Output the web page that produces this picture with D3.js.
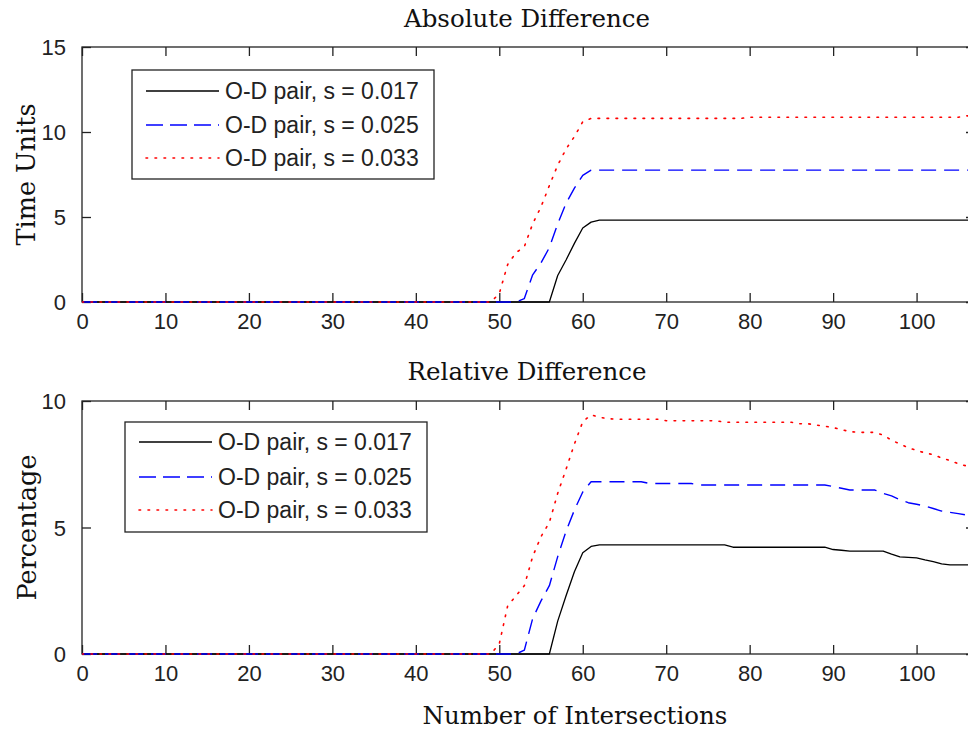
<!DOCTYPE html>
<html>
<head>
<meta charset="utf-8">
<script src="https://cdn.jsdelivr.net/npm/d3@7"></script>
<style>
  html, body { margin: 0; padding: 0; background: #fff; }
  svg { display: block; }
  .tick-label { font-family: "Liberation Sans", Arial, sans-serif; font-size: 22px; fill: #222; }
  .legend-text { font-family: "Liberation Sans", Arial, sans-serif; font-size: 23px; fill: #222; }
  .serif { font-family: "DejaVu Serif", serif; font-size: 24.5px; fill: #111; }
</style>
</head>
<body>
<script>
// ---------------- DATA ----------------
const xValues = [0,1,2,3,4,5,6,7,8,9,10,11,12,13,14,15,16,17,18,19,20,21,22,23,24,25,26,27,28,29,30,31,32,33,34,35,36,37,38,39,40,41,42,43,44,45,46,47,48,49,50,51,52,53,54,55,56,57,58,59,60,61,62,63,64,65,66,67,68,69,70,71,72,73,74,75,76,77,78,79,80,81,82,83,84,85,86,87,88,89,90,91,92,93,94,95,96,97,98,99,100,101,102,103,104,105,106,107];

const seriesNames = ["O-D pair, s = 0.017", "O-D pair, s = 0.025", "O-D pair, s = 0.033"];

// Absolute difference (time units)
const abs017 = [0,0,0,0,0,0,0,0,0,0, 0,0,0,0,0,0,0,0,0,0, 0,0,0,0,0,0,0,0,0,0, 0,0,0,0,0,0,0,0,0,0, 0,0,0,0,0,0,0,0,0,0, 0,0,0,0,0,0,0,
  1.56,2.47,3.45,4.35,4.7,
  4.82,4.82,4.82,4.82,4.82,4.82,4.82,4.82,4.82,4.82, 4.82,4.82,4.82,4.82,4.82,4.82,4.82,4.82,4.82,4.82,
  4.82,4.82,4.82,4.82,4.82,4.82,4.82,4.82,4.82,4.82, 4.82,4.82,4.82,4.82,4.82,4.82,4.82,4.82,4.82,4.82,
  4.82,4.82,4.82,4.82,4.82,4.82];
const abs025 = [0,0,0,0,0,0,0,0,0,0, 0,0,0,0,0,0,0,0,0,0, 0,0,0,0,0,0,0,0,0,0, 0,0,0,0,0,0,0,0,0,0, 0,0,0,0,0,0,0,0,0,0, 0,0,0,
  0.2,1.6,2.3,3.2,4.6,5.8,6.7,7.45,
  7.76,7.76,7.76,7.76,7.76,7.76,7.76,7.76,7.76,7.76, 7.76,7.76,7.76,7.76,7.76,7.76,7.76,7.76,7.76,7.76,
  7.76,7.76,7.76,7.76,7.76,7.76,7.76,7.76,7.76,7.76, 7.76,7.76,7.76,7.76,7.76,7.76,7.76,7.76,7.76,7.76,
  7.76,7.76,7.76,7.76,7.76,7.76,7.76];
const abs033 = [0,0,0,0,0,0,0,0,0,0, 0,0,0,0,0,0,0,0,0,0, 0,0,0,0,0,0,0,0,0,0, 0,0,0,0,0,0,0,0,0,0, 0,0,0,0,0,0,0,0,0,0,
  0.5,2.2,2.9,3.25,4.6,5.6,6.85,8.05,9.0,9.73,10.6,
  10.8,10.8,10.8,10.8,10.8,10.8,10.8,10.8,10.8,10.8, 10.8,10.8,10.8,10.8,10.8,10.8,10.8,10.8,10.8,
  10.87,10.87,10.87,10.87,10.87,10.87,10.87,10.87,10.87,10.87, 10.87,10.87,10.87,10.87,10.87,10.87,10.87,10.87,10.87,10.87,
  10.87,10.87,10.87,10.87,10.87,10.87,
  10.95,10.95];

// Relative difference (percentage)
const rel017 = [0,0,0,0,0,0,0,0,0,0, 0,0,0,0,0,0,0,0,0,0, 0,0,0,0,0,0,0,0,0,0, 0,0,0,0,0,0,0,0,0,0, 0,0,0,0,0,0,0,0,0,0, 0,0,0,0,0,0,0,
  1.3,2.3,3.25,4.0,4.25,
  4.31,4.31,4.31,4.31,4.31,4.31,4.31,4.31,4.31,4.31,4.31,4.31,4.31,4.31,4.31,4.31,
  4.22,4.22,4.22,4.22,4.22,4.22,4.22,4.22,4.22,4.22,4.22,4.22,
  4.13,4.1,
  4.07,4.07,4.07,4.07,4.07,
  3.95,3.84,3.82,3.8,3.72,3.65,3.56,
  3.52,3.52,3.52,3.52];
const rel025 = [0,0,0,0,0,0,0,0,0,0, 0,0,0,0,0,0,0,0,0,0, 0,0,0,0,0,0,0,0,0,0, 0,0,0,0,0,0,0,0,0,0, 0,0,0,0,0,0,0,0,0,0, 0,0,0,
  0.15,1.4,2.1,2.7,3.85,4.85,5.69,6.4,
  6.81,6.81,6.81,6.81,6.81,6.81,6.81,
  6.74,6.74,6.74,6.74,6.74,6.74,
  6.68,6.68,6.68,6.68,6.68,6.68,6.68,6.68,6.68,6.68,6.68,6.68,6.68,6.68,6.68,6.68,
  6.62,6.55,
  6.48,6.48,6.48,6.48,
  6.35,6.25,6.1,5.98,5.92,5.85,5.75,5.65,5.6,5.55,5.49,5.45];
const rel033 = [0,0,0,0,0,0,0,0,0,0, 0,0,0,0,0,0,0,0,0,0, 0,0,0,0,0,0,0,0,0,0, 0,0,0,0,0,0,0,0,0,0, 0,0,0,0,0,0,0,0,0,0,
  0.4,1.9,2.3,2.7,3.85,4.64,5.2,6.35,7.3,8.3,9.18,
  9.45,9.36,9.3,
  9.28,9.28,9.28,9.28,9.28,9.28,
  9.22,9.22,9.22,9.22,9.22,9.22,9.22,
  9.16,9.16,9.16,9.16,9.16,9.16,9.16,9.16,9.16,
  9.1,9.1,9.05,9.0,8.95,8.87,8.79,8.76,8.76,8.76,8.65,8.45,8.3,8.15,8.05,7.95,7.88,7.75,7.65,7.52,7.43,7.35];

const xTicks = [0,10,20,30,40,50,60,70,80,90,100];
const absTicks = [0,5,10,15];
const relTicks = [0,5,10];

// ---------------- DRAW ----------------
const W = 968, H = 732;
const svg = d3.select("body").append("svg").attr("width", W).attr("height", H);

const styles = [
  { color: "#000000", dash: null, width: 1.3 },
  { color: "#0000ff", dash: "15,8", width: 1.4 },
  { color: "#ff0000", dash: "1.6,7.4", width: 1.6 }
];

const x = d3.scaleLinear().domain([0, 107]).range([82, 975]);

function panel(cfg) {
  const y = d3.scaleLinear().domain(cfg.yDomain).range([cfg.bottom, cfg.top]);
  const g = svg.append("g");
  const clipId = "clip" + cfg.id;
  svg.append("clipPath").attr("id", clipId).append("rect")
    .attr("x", x.range()[0]).attr("y", cfg.top - 2)
    .attr("width", x.range()[1] - x.range()[0]).attr("height", cfg.bottom - cfg.top + 3);

  // axes box
  g.append("rect").attr("x", x.range()[0]).attr("y", cfg.top)
    .attr("width", x.range()[1] - x.range()[0]).attr("height", cfg.bottom - cfg.top)
    .attr("fill", "none").attr("stroke", "#222").attr("stroke-width", 1.3);

  const tl = 9;
  const xb = d3.axisBottom(x).tickValues(xTicks).tickSize(-tl).tickPadding(tl + 4).tickFormat(d3.format("d"));
  const gxb = g.append("g").attr("transform", `translate(0,${cfg.bottom})`).call(xb);
  const xt = d3.axisTop(x).tickValues(xTicks).tickSize(-tl).tickFormat("");
  const gxt = g.append("g").attr("transform", `translate(0,${cfg.top})`).call(xt);
  const yl = d3.axisLeft(y).tickValues(cfg.yTicks).tickSize(-tl).tickPadding(tl + 7).tickFormat(d3.format("d"));
  const gyl = g.append("g").attr("transform", `translate(${x.range()[0]},0)`).call(yl);
  const yr = d3.axisRight(y).tickValues(cfg.yTicks).tickSize(-tl).tickFormat("");
  const gyr = g.append("g").attr("transform", `translate(${x.range()[1]},0)`).call(yr);
  [gxb, gxt, gyl, gyr].forEach(a => {
    a.select(".domain").remove();
    a.selectAll(".tick line").attr("stroke", "#222").attr("stroke-width", 1.3);
    a.selectAll("text").attr("class", "tick-label").attr("fill", "#222");
    a.attr("font-size", null).attr("font-family", null);
  });
  gxb.selectAll("text").attr("dy", "0.72em").attr("y", 11);
  gyl.selectAll("text").attr("dy", "0.36em");

  // lines
  const line = d3.line().x((d, i) => x(xValues[i])).y(d => y(d));
  const lg = g.append("g").attr("clip-path", `url(#${clipId})`);
  cfg.series.forEach((s, k) => {
    lg.append("path").datum(s).attr("d", line)
      .attr("fill", "none").attr("stroke", styles[k].color)
      .attr("stroke-width", styles[k].width)
      .attr("stroke-dasharray", styles[k].dash)
      .attr("stroke-linecap", k === 2 ? "round" : "butt")
      .attr("stroke-linejoin", "round");
  });

  // title
  g.append("text").attr("class", "serif").attr("x", cfg.titleX).attr("y", cfg.titleY)
    .attr("text-anchor", "middle").text(cfg.title);
  // y label
  g.append("text").attr("class", "serif").style("font-size", "25.5px")
    .attr("transform", `translate(${cfg.ylabX},${(cfg.top + cfg.bottom) / 2}) rotate(-90)`)
    .attr("text-anchor", "middle").text(cfg.ylabel);

  // legend
  const L = cfg.legend;
  const lgd = g.append("g");
  lgd.append("rect").attr("x", L.x).attr("y", L.y).attr("width", L.w).attr("height", L.h)
    .attr("fill", "#fff").attr("stroke", "#222").attr("stroke-width", 1.3);
  seriesNames.forEach((name, k) => {
    const ry = L.rows[k];
    lgd.append("line").attr("x1", L.lx1).attr("x2", L.lx2).attr("y1", ry).attr("y2", ry)
      .attr("stroke", styles[k].color).attr("stroke-width", styles[k].width)
      .attr("stroke-dasharray", k === 1 ? "17,7" : styles[k].dash)
      .attr("stroke-linecap", k === 2 ? "round" : "butt");
    lgd.append("text").attr("class", "legend-text").attr("x", L.tx).attr("y", ry + 8).text(name);
  });
}

panel({
  id: "a", top: 47, bottom: 302, yDomain: [0, 15], yTicks: absTicks,
  series: [abs017, abs025, abs033],
  title: "Absolute Difference", titleX: 527, titleY: 27,
  ylabel: "Time Units", ylabX: 35,
  legend: { x: 132, y: 70, w: 302, h: 109, rows: [91, 125, 158], lx1: 146, lx2: 219, tx: 225 }
});
panel({
  id: "b", top: 401, bottom: 654, yDomain: [0, 10], yTicks: relTicks,
  series: [rel017, rel025, rel033],
  title: "Relative Difference", titleX: 527, titleY: 380,
  ylabel: "Percentage", ylabX: 36,
  legend: { x: 125, y: 422, w: 302, h: 110, rows: [442, 477, 510], lx1: 139, lx2: 212, tx: 218 }
});

svg.append("text").attr("class", "serif").attr("x", 575).attr("y", 724)
  .attr("text-anchor", "middle").text("Number of Intersections");
</script>
</body>
</html>
